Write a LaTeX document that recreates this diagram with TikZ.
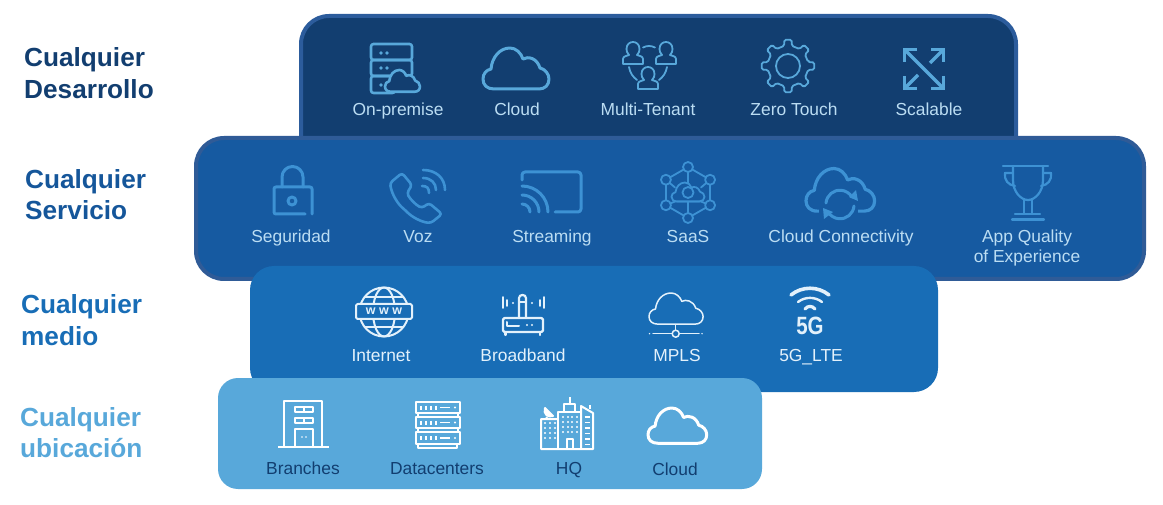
\documentclass[tikz,border=0pt]{standalone}
\usepackage{fontspec}
\setmainfont{Liberation Sans}
\usepackage{tikz}
\definecolor{navy}{HTML}{123E70}
\definecolor{navyedge}{HTML}{2C5C9C}
\definecolor{royal}{HTML}{165AA1}
\definecolor{royaledge}{HTML}{2F5B97}
\definecolor{azure}{HTML}{186DB6}
\definecolor{sky}{HTML}{58A8DA}
\definecolor{palesky}{HTML}{BBDDF3}
\definecolor{iconroyal}{HTML}{3D92D4}
\definecolor{palewhite}{HTML}{E3F1FB}
\tikzstyle{heading} = [anchor=base west, inner sep=0, font=\bfseries\fontsize{26.2}{30}\selectfont]
\tikzstyle{itemlabel} = [anchor=base, inner sep=0, font=\fontsize{17.4}{20}\selectfont]
\tikzstyle{labelone} = [itemlabel, color=palesky]
\tikzstyle{labeltwo} = [itemlabel, color=palesky]
\tikzstyle{labelthree} = [itemlabel, color=palewhite]
\tikzstyle{labelfour} = [itemlabel, color=navy]
\tikzstyle{iconone} = [draw=sky, line width=2.6pt, line join=round, line cap=round]
\tikzstyle{icontwo} = [draw=iconroyal, line width=2.6pt, line join=round, line cap=round]
\tikzstyle{iconthree} = [draw=palewhite, line width=2pt, line join=round, line cap=round]
\tikzstyle{iconfour} = [draw=white, line width=2pt, line join=round]
\tikzset{
  cloudshape/.pic={
    \draw[pic actions] (11,41) .. controls (4,41) and (0,37) .. (0,31)
      .. controls (0,26) and (3,22) .. (8,21)
      .. controls (9,9) and (17,0) .. (27,0)
      .. controls (33,0) and (38,5) .. (40,11)
      .. controls (45,8) and (54,10) .. (57,20)
      .. controls (62,21) and (66,26) .. (66,31)
      .. controls (66,37) and (62,41) .. (56,41) -- cycle;
  },
  personshape/.pic={
    \draw[pic actions] (0,22) -- (0,17) .. controls (0,14) and (4,14) .. (6,13)
      .. controls (4,11) and (3.5,9) .. (3.5,7) .. controls (3.5,2) and (7,0) .. (10,0)
      .. controls (13,0) and (16.5,2) .. (16.5,7) .. controls (16.5,9) and (16,11) .. (14,13)
      .. controls (16,14) and (20,14) .. (20,17) -- (20,22) -- cycle;
  }
}

\begin{document}
\begin{tikzpicture}[x=1pt, y=-1pt]
  \useasboundingbox (0,0) rectangle (1163,505);

  % the four bands
  \filldraw[draw=navyedge, fill=navy, line width=4pt, rounded corners=28pt] (301,16) rectangle (1016,170);
  \filldraw[draw=royaledge, fill=royal, line width=4pt, rounded corners=28pt] (196,138) rectangle (1144,279);
  \fill[azure, rounded corners=24pt] (250,266) rectangle (938,392);
  \fill[sky, rounded corners=20pt] (218,378) rectangle (762,489);

  % row headings
  \node[heading, color=navy] (desarrolloa) at (24,67) {Cualquier};
  \node[heading, color=navy] (desarrollob) at (24,99) {Desarrollo};
  \node[heading, color=royal!85!navy] (servicioa) at (25,189) {Cualquier};
  \node[heading, color=royal!85!navy] (serviciob) at (25,220) {Servicio};
  \node[heading, color=azure] (medioa) at (21,313) {Cualquier};
  \node[heading, color=azure] (mediob) at (21,345) {medio};
  \node[heading, color=sky] (ubicaciona) at (20,426) {Cualquier};
  \node[heading, color=sky] (ubicacionb) at (20,457) {ubicación};

  % labels
  \node[labelone] (premise) at (398,116) {On-premise};
  \node[labelone] (cloudone) at (517,116) {Cloud};
  \node[labelone] (tenant) at (648,116) {Multi-Tenant};
  \node[labelone] (touch) at (794,116) {Zero Touch};
  \node[labelone] (scalable) at (929,116) {Scalable};

  \node[labeltwo] (seguridad) at (291,243) {Seguridad};
  \node[labeltwo] (voz) at (418,243) {Voz};
  \node[labeltwo] (streaming) at (552,243) {Streaming};
  \node[labeltwo] (saas) at (688,243) {SaaS};
  \node[labeltwo] (connect) at (841,243) {Cloud Connectivity};
  \node[labeltwo] (quality) at (1027,243) {App Quality};
  \node[labeltwo] (experience) at (1027,263) {of Experience};

  \node[labelthree] (internet) at (381,362) {Internet};
  \node[labelthree] (broadband) at (523,362) {Broadband};
  \node[labelthree] (mpls) at (677,362) {MPLS};
  \node[labelthree] (lte) at (811,362) {5G\_LTE};

  \node[labelfour] (branches) at (303,474) {Branches};
  \node[labelfour] (datacenters) at (437,474) {Datacenters};
  \node[labelfour] (hq) at (569,474) {HQ};
  \node[labelfour] (cloudfour) at (675,475) {Cloud};

  % on-premise
  \draw[iconone, rounded corners=2.5pt] (371,44) rectangle (412,60);
  \draw[iconone, rounded corners=2.5pt] (371,60) rectangle (412,76);
  \draw[iconone, rounded corners=2.5pt] (371,76) rectangle (395,93);
  \fill[sky] (381,53) circle (1.8) (387,53) circle (1.8) (381,68) circle (1.8) (387,68) circle (1.8) (381,85) circle (1.8);
  \pic[iconone, fill=navy, scale=.53] at (385,70) {cloudshape};

  % cloud
  \pic[iconone, line width=3pt] at (483,48) {cloudshape};

  % multi-tenant
  \pic[iconone, line width=1.8pt] at (623,42) {personshape};
  \pic[iconone, line width=1.8pt] at (656,42) {personshape};
  \pic[iconone, line width=1.8pt] at (638,67) {personshape};
  \draw[iconone, line width=1.8pt] (643,47.5) .. controls (647,45.5) and (651,45.5) .. (655,47.5);
  \draw[iconone, line width=1.8pt] (629,67) .. controls (630,73) and (633,77) .. (637,80);
  \draw[iconone, line width=1.8pt] (667,67) .. controls (666,73) and (663,77) .. (659,80);

  % gear
  \begin{scope}[shift={(788,66)}]
    \draw[iconone, line width=1.8pt, rounded corners=1.5pt] (-11:20.5)
      \foreach \a in {0,45,...,315} { -- (\a-11:20.5) -- (\a-8:26.5) -- (\a+8:26.5) -- (\a+11:20.5) } -- cycle;
    \draw[iconone, line width=1.8pt] (0,0) circle (12);
  \end{scope}

  % scalable
  \draw[iconone, line width=3.4pt, line cap=butt, line join=miter] (917,49.5) -- (904.5,49.5) -- (904.5,62);
  \draw[iconone, line width=3.4pt, line cap=butt, line join=miter] (931,49.5) -- (943.5,49.5) -- (943.5,62);
  \draw[iconone, line width=3.4pt, line cap=butt, line join=miter] (904.5,76) -- (904.5,88.5) -- (917,88.5);
  \draw[iconone, line width=3.4pt, line cap=butt, line join=miter] (943.5,76) -- (943.5,88.5) -- (931,88.5);
  \draw[iconone, line width=3.4pt, line cap=butt] (905,50) -- (943,88);
  \draw[iconone, line width=3.4pt, line cap=butt] (943,50) -- (930,63);
  \draw[iconone, line width=3.4pt, line cap=butt] (905,88) -- (918,75);

  % lock
  \draw[icontwo, line width=3pt, rounded corners=2pt] (305,214) -- (274,214) -- (274,187) -- (312,187) -- (312,214);
  \draw[icontwo, line width=3pt] (282,187) -- (282,177) arc (180:360:10.5) -- (303,187);
  \draw[icontwo, line width=3pt] (292,201) circle (4);

  % voice
  \draw[icontwo, rounded corners=3pt] (402,173) -- (390,183) .. controls (392,195) and (398,204) .. (405,210)
    .. controls (412,217) and (421,222) .. (431,223) -- (442,214) -- (429,203) -- (422,208)
    .. controls (416,205) and (410,199) .. (407,193) -- (412,185) -- cycle;
  \draw[icontwo] (423,170) .. controls (436,170) and (445,178) .. (445,190);
  \draw[icontwo] (423,178) .. controls (431,178) and (436,183) .. (436,190);
  \draw[icontwo] (422,186) .. controls (427,186) and (429,188) .. (429,193);

  % streaming
  \draw[icontwo, rounded corners=3pt, line width=3pt] (522,180) -- (522,172) -- (581,172) -- (581,212) -- (555,212);
  \draw[icontwo, line width=3pt] (522,186) arc (270:360:26);
  \draw[icontwo, line width=3pt] (522,195) arc (270:360:17);
  \draw[icontwo, line width=3pt] (522,204) arc (270:360:8);

  % saas
  \begin{scope}[shift={(688,192.5)}]
    \draw[icontwo, line width=1.8pt] (90:25.5) -- (30:25.5) -- (-30:25.5) -- (-90:25.5) -- (-150:25.5) -- (150:25.5) -- cycle;
    \draw[icontwo, line width=1.8pt] (150:25.5) -- (-150:25.5);
    \draw[icontwo, line width=1.8pt] (30:25.5) -- (-30:25.5);
    \draw[icontwo, line width=1.8pt] (0,-21) -- (0,-9);
    \draw[icontwo, line width=1.8pt] (0,9) -- (0,21);
    \draw[icontwo, line width=1.8pt] (-22,-12.75) -- (-13,-5);
    \draw[icontwo, line width=1.8pt] (22,-12.75) -- (13,-5);
    \draw[icontwo, line width=1.8pt] (-22,12.75) -- (-13,9) -- (13,9) -- (22,12.75);
    \filldraw[icontwo, line width=1.8pt, fill=royal] (90:25.5) circle (5) (30:25.5) circle (5) (-30:25.5) circle (5)
      (-90:25.5) circle (5) (-150:25.5) circle (5) (150:25.5) circle (5);
    \pic[icontwo, line width=1.8pt, fill=royal, xscale=.5, yscale=.46] at (-16.5,-10) {cloudshape};
    \draw[icontwo, line width=1.8pt] (0,0) circle (5.5);
  \end{scope}

  % cloud connectivity
  \pic[icontwo, line width=3.2pt, scale=1.04] at (806,168.5) {cloudshape};
  \fill[royal] (819,206) rectangle (858,216);
  \draw[icontwo, line width=3pt] (826,203) arc (185:330:14);
  \draw[icontwo, line width=3pt] (854,206) arc (5:150:14);
  \fill[iconroyal] (849,197) -- (856,190) -- (858,201) -- cycle;
  \fill[iconroyal] (823,208) -- (833,212) -- (824,219) -- cycle;

  % trophy
  \draw[icontwo, line width=2.2pt] (1003,166) -- (1048,166);
  \draw[icontwo, line width=2.2pt] (1013,166) -- (1013,180) .. controls (1013,192) and (1021,200) .. (1028,200)
    .. controls (1035,200) and (1043,192) .. (1043,180) -- (1043,166);
  \draw[icontwo, line width=2.2pt] (1013,173) -- (1005,173) .. controls (1004,180) and (1008,185) .. (1015,186);
  \draw[icontwo, line width=2.2pt] (1043,173) -- (1051,173) .. controls (1052,180) and (1048,185) .. (1041,186);
  \draw[icontwo, line width=2.2pt] (1024,200) -- (1024,214);
  \draw[icontwo, line width=2.2pt] (1032,200) -- (1032,214);
  \draw[icontwo, line width=2.2pt] (1015,214) -- (1040,214);
  \draw[icontwo, line width=2.2pt] (1012,219.5) -- (1044,219.5);

  % internet
  \draw[iconthree] (384,312) circle (24.5);
  \draw[iconthree] (384,312) ellipse (11 and 24.5);
  \draw[iconthree] (364.6,297) -- (403.4,297);
  \draw[iconthree] (364.6,327) -- (403.4,327);
  \filldraw[iconthree, fill=azure, rounded corners=1.5pt] (356,304) rectangle (412,319);
  \node[anchor=center, inner sep=0, color=palewhite, font=\bfseries\fontsize{12.5}{12}\selectfont] (www) at (384,311.5) {w w w};

  % broadband
  \draw[iconthree, rounded corners=1.5pt, line width=2.2pt] (503,318) rectangle (543,332);
  \draw[iconthree, line width=2.2pt] (505.5,332) -- (505.5,335);
  \draw[iconthree, line width=2.2pt] (540,332) -- (540,335);
  \draw[iconthree, line width=2.2pt] (519,318) -- (519,298) .. controls (519,294) and (526,294) .. (526,298) -- (526,318);
  \draw[iconthree, line width=1.6pt] (519,302) -- (526,302);
  \draw[iconthree] (507,322) -- (507,326) -- (519,326);
  \fill[palewhite] (527,325) circle (1.2) (532,325) circle (1.2) (513,303) circle (1.2) (532,303) circle (1.2);
  \draw[iconthree, line width=1.8pt] (503,297) -- (503,308);
  \draw[iconthree, line width=1.8pt] (507,300) -- (507,306);
  \draw[iconthree, line width=1.8pt] (540,300) -- (540,306);
  \draw[iconthree, line width=1.8pt] (544,297) -- (544,308);

  % mpls
  \pic[iconthree, line width=1.5pt, xscale=.82, yscale=.76] at (649,293) {cloudshape};
  \draw[iconthree, line width=1.5pt] (675.7,325) -- (675.7,330);
  \draw[iconthree, line width=1.5pt] (653,333.7) -- (672,333.7);
  \draw[iconthree, line width=1.5pt] (679.5,333.7) -- (699,333.7);
  \draw[iconthree, line width=1.5pt] (675.7,333.7) circle (3.5);
  \fill[palewhite] (649.5,333.7) circle (.8) (702,333.7) circle (.8);

  % 5g
  \draw[iconthree, line width=3.6pt] (791,295) .. controls (802,286) and (818,286) .. (829,295);
  \draw[iconthree, line width=2.4pt] (798,302) .. controls (805,296.5) and (815,296.5) .. (822,302);
  \draw[iconthree, line width=3.2pt] (805,309) .. controls (808,305.5) and (812,305.5) .. (815,309);
  \node[anchor=center, inner sep=0, color=palewhite, xscale=.82, font=\bfseries\fontsize{25}{25}\selectfont] (fiveg) at (810,326) {5G};

  % branches
  \draw[iconfour] (284,447) -- (284,401) -- (322,401) -- (322,447);
  \draw[iconfour] (278,447) -- (329,447);
  \draw[iconfour] (295,407) rectangle (313,412);
  \draw[iconfour] (304,407) -- (304,412);
  \draw[iconfour] (295,418) rectangle (313,423);
  \draw[iconfour] (304,418) -- (304,423);
  \draw[iconfour] (295,447) -- (295,429) -- (313,429) -- (313,447);
  \fill[white] (302,437) circle (.9) (306,437) circle (.9);

  % datacenters
  \draw[iconfour] (416,402) rectangle (460,413);
  \draw[iconfour] (416,417) rectangle (460,428);
  \draw[iconfour] (416,432) rectangle (460,444);
  \draw[iconfour] (418,444) -- (418,448) -- (457,448) -- (457,444);
  \draw[iconfour] (418,413) -- (418,417);
  \draw[iconfour] (458,413) -- (458,417);
  \draw[iconfour] (418,428) -- (418,432);
  \draw[iconfour] (458,428) -- (458,432);
  \foreach \y in {407.5,422.5,438} {
    \draw[white, line width=1.8pt] (421,\y-2) -- (421,\y+2) (426,\y-2) -- (426,\y+2) (431,\y-2) -- (431,\y+2) (436,\y-2) -- (436,\y+2);
    \draw[white, line width=1.4pt] (440,\y) -- (450,\y);
    \fill[white] (455,\y) circle (1.1);
  }

  % hq
  \draw[iconfour] (558,419) -- (541,419) -- (541,449) -- (593,449) -- (593,413) -- (581,406) -- (581,449);
  \draw[iconfour] (558,449) -- (558,412) -- (581,412);
  \draw[iconfour] (564,412) -- (564,404) -- (575,404) -- (575,412);
  \draw[iconfour] (569.5,404) -- (569.5,397);
  \draw[iconfour] (567,449) -- (567,439) -- (573,439) -- (573,449);
  \draw[iconfour] (590,409) -- (590,405);
  \filldraw[iconfour, fill=white] (545,408) .. controls (543,414) and (548,418) .. (553,416) -- cycle;
  \draw[iconfour] (547,417) -- (546,419);
  \foreach \y in {423,428,433,438} {
    \fill[white] (545,\y) circle (1.2) (550,\y) circle (1.2) (555,\y) circle (1.2);
  }
  \foreach \y in {417,422,427,432} {
    \fill[white] (563,\y) circle (1.2) (568,\y) circle (1.2) (572,\y) circle (1.2) (577,\y) circle (1.2);
  }
  \foreach \y in {417,422.5,428,433.5,439,444.5} {
    \draw[white, line width=1.6pt] (584.5,\y) -- (589.5,\y);
  }

  % cloud
  \pic[iconfour, line width=3pt, xscale=.89, yscale=.86] at (648,408) {cloudshape};
\end{tikzpicture}
\end{document}
